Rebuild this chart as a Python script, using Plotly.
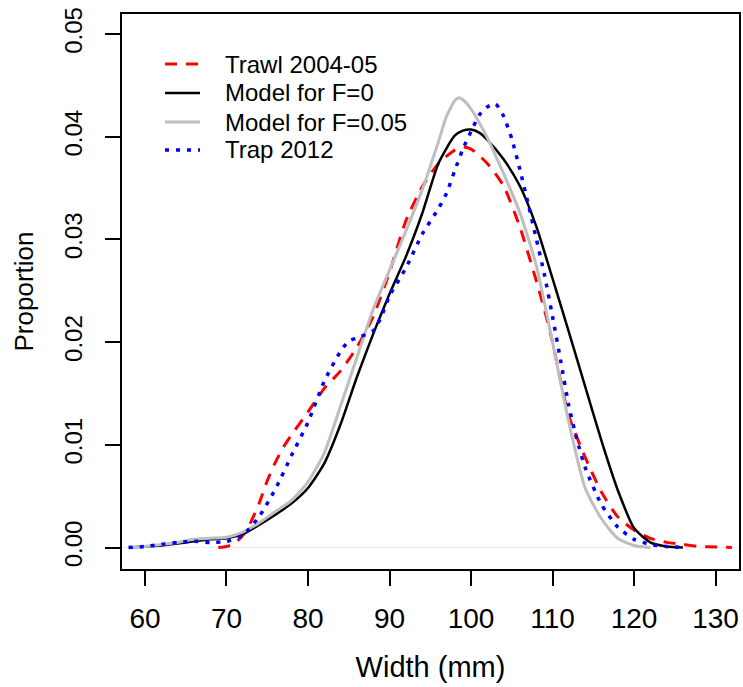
import plotly.graph_objects as go

# ---- data ----
trawl_x = [69, 70, 71, 72, 73, 74, 75, 76, 77, 78, 80, 82, 84, 86, 88, 90, 92, 94, 96, 98, 99, 100,
           102, 104, 106, 108, 109, 110, 111, 112, 114, 116, 118, 120, 122, 124, 126, 128, 130, 132]
trawl_y = [0.0000, 0.0001, 0.0004, 0.0012, 0.0025, 0.0043, 0.0065, 0.0083, 0.0098, 0.0110, 0.0132,
           0.0155, 0.0172, 0.0195, 0.0225, 0.0268, 0.0318, 0.0351, 0.0374, 0.0387, 0.0390, 0.0388,
           0.0374, 0.0352, 0.0312, 0.0260, 0.0232, 0.0200, 0.0162, 0.0128, 0.0088, 0.0054, 0.0030,
           0.0017, 0.0009, 0.0005, 0.0003, 0.0001, 0.00005, 0.0000]

model0_x = [58, 60, 62, 64, 66, 68, 70, 72, 74, 76, 78, 80, 82, 84, 86, 88, 90, 92, 94, 96, 98, 99,
            100, 101, 102, 104, 106, 108, 110, 112, 114, 116, 118, 120, 122, 124, 126]
model0_y = [0.0000, 0.0001, 0.0002, 0.0004, 0.0006, 0.0008, 0.0009, 0.0013, 0.0022, 0.0032, 0.0043,
            0.0058, 0.0082, 0.0120, 0.0166, 0.0208, 0.0247, 0.0283, 0.0325, 0.0374, 0.0401, 0.0406,
            0.0407, 0.0404, 0.0397, 0.0378, 0.0352, 0.0313, 0.0262, 0.0210, 0.0157, 0.0104, 0.0056,
            0.0019, 0.0005, 0.0001, 0.0000]

model05_x = [58, 60, 62, 64, 66, 68, 70, 72, 74, 76, 78, 80, 82, 84, 86, 88, 90, 92, 94, 96, 97, 98,
             98.5, 99, 100, 102, 104, 106, 108, 110, 112, 114, 116, 118, 120, 122]
model05_y = [0.0000, 0.0001, 0.0003, 0.0005, 0.0008, 0.0009, 0.0010, 0.0015, 0.0024, 0.0035, 0.0046,
             0.0064, 0.0092, 0.0138, 0.0185, 0.0232, 0.0270, 0.0308, 0.0348, 0.0395, 0.0420, 0.0435,
             0.0438, 0.0436, 0.0427, 0.0399, 0.0364, 0.0326, 0.0275, 0.0200, 0.0122, 0.0058, 0.0028,
             0.0009, 0.0002, 0.0000]

trap_x = [58, 60, 62, 64, 66, 68, 70, 72, 74, 76, 78, 80, 82, 84, 85, 86, 88, 89, 90, 92, 94, 96, 97,
          98, 99, 100, 101, 102, 103, 104, 105, 106, 107, 108, 109, 110, 111, 112, 113, 114, 116, 118,
          120, 122, 124, 126]
trap_y = [0.0000, 0.0001, 0.0003, 0.0005, 0.0006, 0.0005, 0.0006, 0.0012, 0.0030, 0.0057, 0.0090,
          0.0122, 0.0162, 0.0191, 0.0201, 0.0204, 0.0211, 0.0225, 0.0245, 0.0272, 0.0305, 0.0330,
          0.0345, 0.0367, 0.0388, 0.0405, 0.0421, 0.0429, 0.0432, 0.0420, 0.0398, 0.0368, 0.0335,
          0.0301, 0.0266, 0.0225, 0.0182, 0.0138, 0.0105, 0.0078, 0.0042, 0.0020, 0.0008, 0.0003,
          0.0001, 0.0000]

x_ticks = [60, 70, 80, 90, 100, 110, 120, 130]
y_ticks = [0.00, 0.01, 0.02, 0.03, 0.04, 0.05]
y_tick_text = ["0.00", "0.01", "0.02", "0.03", "0.04", "0.05"]

FONT = "Arial, 'Liberation Sans', Helvetica, sans-serif"

series = [
    ("Trawl 2004-05", trawl_x, trawl_y, dict(color="#FF0000", width=3, dash="12px,9px")),
    ("Model for F=0", model0_x, model0_y, dict(color="#000000", width=2.5, dash="solid")),
    ("Model for F=0.05", model05_x, model05_y, dict(color="#BEBEBE", width=3, dash="solid")),
    ("Trap 2012", trap_x, trap_y, dict(color="#0000FF", width=3.5, dash="4px,7px")),
]

fig = go.Figure()

# faint zero reference line
fig.add_shape(type="line", xref="x domain", yref="y", x0=0, x1=1, y0=0, y1=0,
              line=dict(color="#EDEDED", width=1), layer="below")

for name, xs, ys, ln in series:
    fig.add_trace(go.Scatter(x=xs, y=ys, mode="lines", name=name, showlegend=False,
                             line=dict(shape="spline", smoothing=0.6, **ln)))

# legend drawn inside the plot (R-style, no box)
leg_x0, leg_x1, leg_tx = 0.0697, 0.1264, 0.1637
leg_rows = [0.9099, 0.8577, 0.8054, 0.7550]
for (name, _, _, ln), yy in zip(series, leg_rows):
    fig.add_shape(type="line", xref="paper", yref="paper", x0=leg_x0, x1=leg_x1, y0=yy, y1=yy,
                  line=dict(color=ln["color"], width=ln["width"], dash=ln["dash"]))
    fig.add_annotation(xref="paper", yref="paper", x=leg_tx, y=yy, text=name, showarrow=False,
                       xanchor="left", yanchor="middle",
                       font=dict(size=24, family=FONT, color="black"))

fig.update_layout(
    width=743, height=687,
    margin=dict(l=122, r=4, t=14, b=118, pad=0),
    paper_bgcolor="white", plot_bgcolor="white",
    font=dict(family=FONT, color="black"),
    showlegend=False,
)
fig.update_xaxes(
    range=[57.18, 132.88], tickvals=x_ticks, ticktext=[str(v) for v in x_ticks],
    automargin=False, ticklabelstandoff=9,
    showgrid=False, zeroline=False, showline=True, mirror=True,
    linecolor="black", linewidth=1.5, ticks="outside", ticklen=15, tickwidth=1.5, tickcolor="black",
    tickfont=dict(size=28, family=FONT, color="black"),
    title=dict(text="Width (mm)", font=dict(size=29, family=FONT, color="black"), standoff=23),
)
fig.update_yaxes(
    range=[-0.00209, 0.05195], tickvals=y_ticks, ticktext=y_tick_text, tickangle=-90,
    automargin=False, ticklabelstandoff=14,
    showgrid=False, zeroline=False, showline=True, mirror=True,
    linecolor="black", linewidth=1.5, ticks="outside", ticklen=15, tickwidth=1.5, tickcolor="black",
    tickfont=dict(size=24, family=FONT, color="black"),
    title=dict(text="Proportion", font=dict(size=26, family=FONT, color="black"), standoff=19),
)

fig.write_html("out.html", config={"displayModeBar": False},
               post_script="document.body.style.margin='0';document.body.style.overflow='hidden';")
